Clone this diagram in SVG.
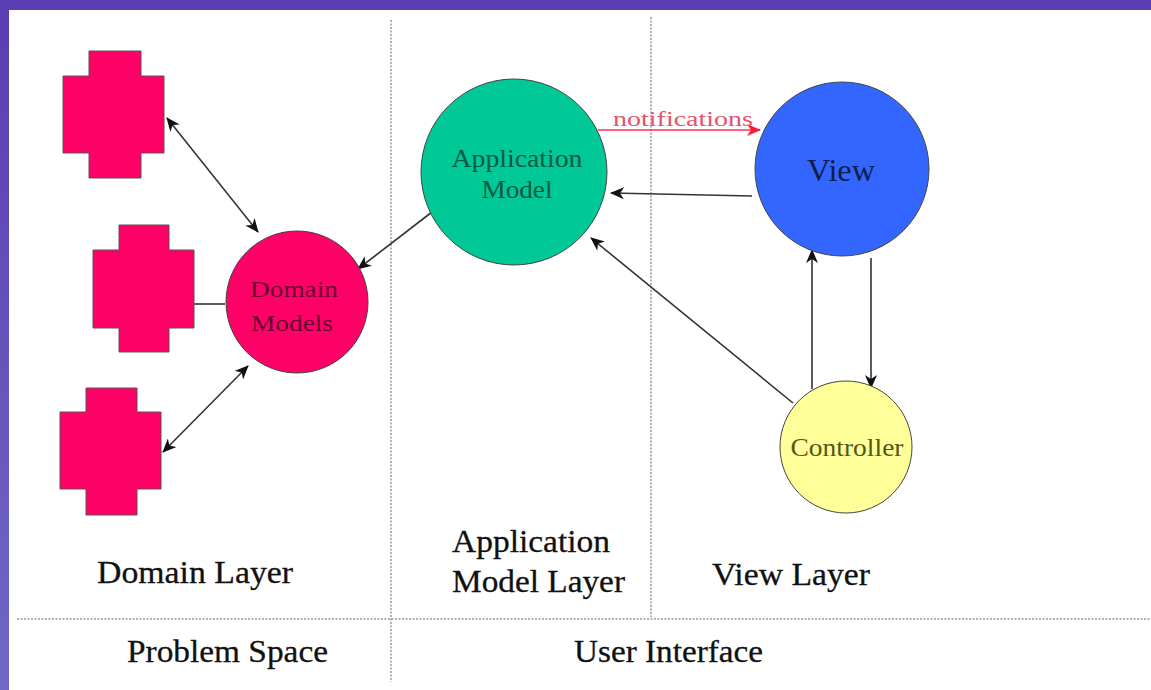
<svg xmlns="http://www.w3.org/2000/svg" width="1151" height="690" viewBox="0 0 1151 690">
  <defs>
    <linearGradient id="sideBar" x1="0" y1="0" x2="0" y2="1">
      <stop offset="0" stop-color="#5a3db1"/>
      <stop offset="1" stop-color="#7068c6"/>
    </linearGradient>
    <marker id="head" viewBox="0 0 14 12" refX="13" refY="6" markerWidth="14" markerHeight="12" markerUnits="userSpaceOnUse" orient="auto-start-reverse">
      <path d="M0,0 L14,6 L0,12 L4,6 z" fill="#111"/>
    </marker>
    <marker id="headRed" viewBox="0 0 14 12" refX="13" refY="6" markerWidth="14" markerHeight="12" markerUnits="userSpaceOnUse" orient="auto">
      <path d="M0,0 L14,6 L0,12 L4,6 z" fill="#ff1a3a"/>
    </marker>
  </defs>
  <style>
    .serif { font-family: "Liberation Serif", "Times New Roman", serif; }
    .cross { fill: #ff0066; stroke: #555; stroke-width: 1; }
    .node { stroke: #444; stroke-width: 1; }
    .link { fill: none; stroke: #333; stroke-width: 1.6; }
    .divider { fill: none; stroke: #999; stroke-width: 1.5; stroke-dasharray: 2 1.5; }
    .label { font-size: 32px; fill: #111; stroke: #111; stroke-width: 0.3; }
  </style>

  <!-- page frame -->
  <rect x="0" y="0" width="1151" height="690" fill="#ffffff"/>
  <rect x="0" y="0" width="9" height="690" fill="url(#sideBar)"/>
  <rect x="0" y="0" width="1151" height="10" fill="#5b3eb3"/>

  <!-- layer dividers -->
  <g id="dividers">
    <line class="divider" x1="391" y1="20" x2="391" y2="682"/>
    <line class="divider" x1="651" y1="17" x2="651" y2="617"/>
    <line class="divider" x1="17" y1="619" x2="1151" y2="619" stroke="#bbb" stroke-width="3.5"/>
  </g>

  <!-- connectors -->
  <g id="connectors">
    <line class="link" x1="167" y1="118" x2="258" y2="232" marker-start="url(#head)" marker-end="url(#head)"/>
    <line class="link" x1="194" y1="304" x2="225" y2="304"/>
    <line class="link" x1="163" y1="452" x2="248" y2="366" marker-start="url(#head)" marker-end="url(#head)"/>
    <line class="link" x1="432" y1="212" x2="358" y2="269" marker-end="url(#head)"/>
    <line class="link" x1="752" y1="196" x2="611" y2="193" marker-end="url(#head)"/>
    <line class="link" x1="793" y1="403" x2="591" y2="238" marker-end="url(#head)"/>
    <line class="link" x1="812" y1="389" x2="812" y2="250" stroke="#888" stroke-width="2.5" marker-end="url(#head)"/>
    <line class="link" x1="871" y1="258" x2="871" y2="388" marker-end="url(#head)"/>
    <line x1="598" y1="130" x2="760" y2="130" stroke="#ff3050" stroke-width="1.6" marker-end="url(#headRed)"/>
    <text class="serif" x="613" y="126" font-size="20" fill="#e8506c" textLength="140" lengthAdjust="spacingAndGlyphs">notifications</text>
  </g>

  <!-- domain objects -->
  <g id="domain-object-1">
    <path class="cross" d="M89,51 H141 V76 H164 V153 H141 V178 H89 V153 H63 V76 H89 Z"/>
  </g>
  <g id="domain-object-2">
    <path class="cross" d="M119,225 H169 V250 H194 V328 H169 V352 H119 V328 H93 V250 H119 Z"/>
  </g>
  <g id="domain-object-3">
    <path class="cross" d="M86,388 H137 V412 H161 V489 H137 V515 H86 V489 H60 V412 H86 Z"/>
  </g>

  <!-- domain models -->
  <g id="domain-models">
    <circle class="node" cx="297" cy="302" r="71" fill="#ff0066"/>
    <text class="serif" x="294" y="297" font-size="24" fill="#6a002e" text-anchor="middle" textLength="88" lengthAdjust="spacingAndGlyphs">Domain</text>
    <text class="serif" x="292" y="331" font-size="24" fill="#6a002e" text-anchor="middle" textLength="82" lengthAdjust="spacingAndGlyphs">Models</text>
  </g>

  <!-- application model -->
  <g id="application-model">
    <circle class="node" cx="514" cy="172" r="93" fill="#00c896"/>
    <text class="serif" x="517" y="167" font-size="25" fill="#005a44" text-anchor="middle" textLength="131" lengthAdjust="spacingAndGlyphs">Application</text>
    <text class="serif" x="517" y="198" font-size="25" fill="#005a44" text-anchor="middle" textLength="71" lengthAdjust="spacingAndGlyphs">Model</text>
  </g>

  <!-- view -->
  <g id="view">
    <circle class="node" cx="842" cy="169" r="87" fill="#3366ff"/>
    <text class="serif" x="841" y="181" font-size="32" fill="#0e1c50" text-anchor="middle" textLength="68" lengthAdjust="spacingAndGlyphs">View</text>
  </g>

  <!-- controller -->
  <g id="controller">
    <circle class="node" cx="846" cy="447" r="66" fill="#ffff99"/>
    <text class="serif" x="847" y="456" font-size="25" fill="#55551a" text-anchor="middle" textLength="113" lengthAdjust="spacingAndGlyphs">Controller</text>
  </g>

  <!-- layer captions -->
  <g id="captions" class="serif">
    <text class="label" x="97" y="583" textLength="196" lengthAdjust="spacingAndGlyphs">Domain Layer</text>
    <text class="label" x="452" y="552" textLength="158" lengthAdjust="spacingAndGlyphs">Application</text>
    <text class="label" x="452" y="592" textLength="173" lengthAdjust="spacingAndGlyphs">Model Layer</text>
    <text class="label" x="712" y="585" textLength="158" lengthAdjust="spacingAndGlyphs">View Layer</text>
    <text class="label" x="127" y="662" textLength="201" lengthAdjust="spacingAndGlyphs">Problem Space</text>
    <text class="label" x="574" y="662" textLength="189" lengthAdjust="spacingAndGlyphs">User Interface</text>
  </g>
</svg>
